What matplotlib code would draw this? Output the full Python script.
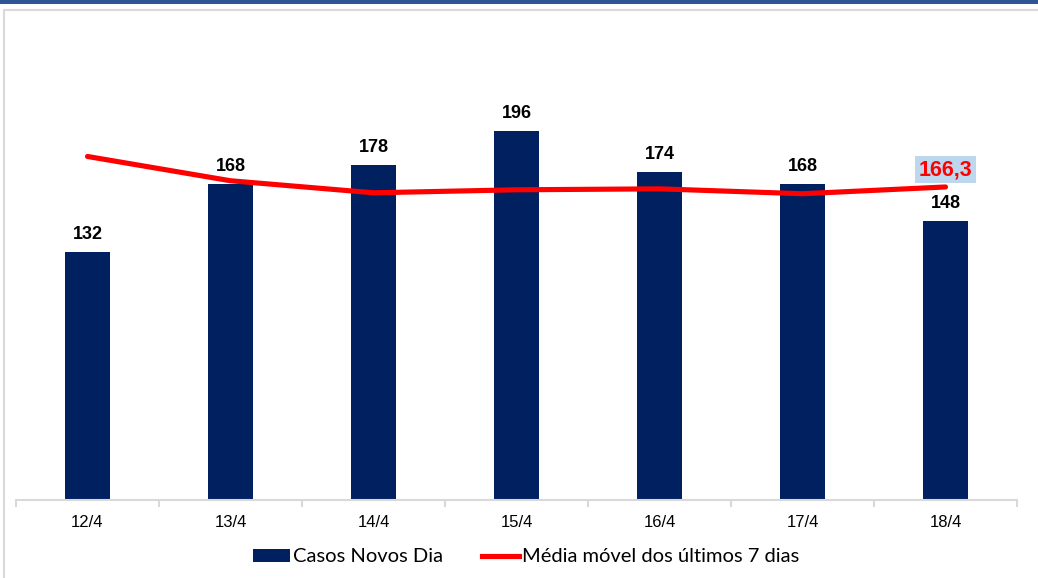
import matplotlib
matplotlib.use("Agg")
import matplotlib.pyplot as plt
from matplotlib.patches import Rectangle
from matplotlib.lines import Line2D
import numpy as np

categories = ["12/4", "13/4", "14/4", "15/4", "16/4", "17/4", "18/4"]
casos = [132, 168, 178, 196, 174, 168, 148]
media_movel = [182.5, 169.6, 163.2, 164.8, 165.3, 162.7, 166.3]
last_label = "166,3"

W, H = 1038, 578
fig = plt.figure(figsize=(W / 100, H / 100), dpi=100)

# top blue band and outer frame
fig.patches.append(Rectangle((0, 1 - 4 / H), 1, 4 / H, transform=fig.transFigure,
                             facecolor="#2F5597", edgecolor="none", zorder=-2))
fig.patches.append(Rectangle((4 / W, -0.1), 1.2, 1 - 10 / H + 0.1, transform=fig.transFigure,
                             facecolor="white", edgecolor="#D9D9D9", linewidth=1.5, zorder=-1))

left, right = 16 / W, 1017 / W
bottom, top = (H - 500) / H, (H - 20) / H
ax = fig.add_axes([left, bottom, right - left, top - bottom])
ax.set_zorder(2)
ax.set_facecolor("none")

x = np.arange(len(categories))
ax.bar(x, casos, width=0.31, color="#002060", zorder=2)
ax.plot(x, media_movel, color="#FF0000", linewidth=3.7, solid_capstyle="round", zorder=3)

ax.set_xlim(-0.5, len(categories) - 0.5)
ax.set_ylim(0, 255)

for xi, v in zip(x, casos):
    ax.annotate(str(v), (xi, v), xytext=(0, 6.5), textcoords="offset points",
                ha="center", va="bottom", fontsize=13, fontweight="bold",
                family="Liberation Sans", color="black", zorder=4)

ax.annotate(last_label, (x[-1], media_movel[-1]), xytext=(0, 5), textcoords="offset points",
            ha="center", va="bottom", fontsize=15.5, fontweight="bold",
            family="Liberation Sans", color="#FF0000", zorder=5,
            bbox=dict(boxstyle="square,pad=0.15", facecolor="#BDD7EE", edgecolor="none"))

for s in ["left", "right", "top"]:
    ax.spines[s].set_visible(False)
ax.spines["bottom"].set_color("#D9D9D9")
ax.spines["bottom"].set_linewidth(1.5)
ax.set_yticks([])
ax.set_xticks(x)
ax.set_xticklabels(categories, family="Liberation Sans", fontsize=12)
ax.tick_params(axis="x", length=0, pad=11)
ax.set_xticks(np.arange(-0.5, len(categories)), minor=True)
ax.tick_params(axis="x", which="minor", length=5, width=1.5, color="#D9D9D9", direction="out")

handles = [Rectangle((0, 0), 1, 1, facecolor="#002060", edgecolor="none"),
           Line2D([0], [0], color="#FF0000", linewidth=3.7)]
leg = fig.legend(handles, ["Casos Novos Dia", "Média móvel dos últimos 7 dias"],
                 loc="center", bbox_to_anchor=(526 / W, 1 - 557 / H), ncol=2, frameon=False,
                 prop={"family": "Lato", "size": 14.5}, handlelength=1.85, handletextpad=0.15,
                 columnspacing=1.9, handleheight=0.65)
leg.set_zorder(3)

fig.savefig("out.png", dpi=100)
